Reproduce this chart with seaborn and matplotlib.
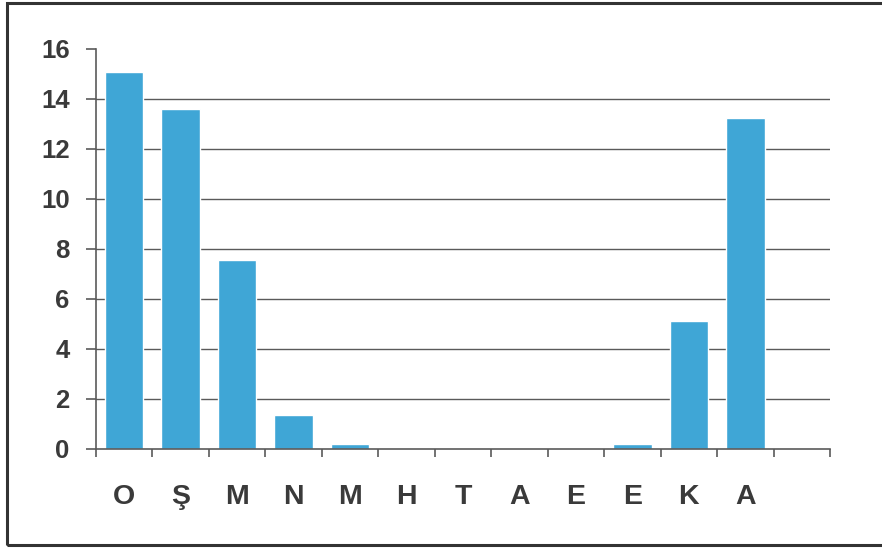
import matplotlib
matplotlib.use("Agg")
import matplotlib.pyplot as plt
import matplotlib.patches as mpatches
import seaborn as sns
import pandas as pd
import numpy as np

months = ["Ocak", "Şubat", "Mart", "Nisan", "Mayıs", "Haziran", "Temmuz",
          "Ağustos", "Eylül", "Ekim", "Kasım", "Aralık"]
tick_labels = ["O", "Ş", "M", "N", "M", "H", "T", "A", "E", "E", "K", "A"]
values = [15.1, 13.6, 7.55, 1.35, 0.2, 0, 0, 0, 0, 0.2, 5.12, 13.25]
y_ticks = [0, 2, 4, 6, 8, 10, 12, 14, 16]

df = pd.DataFrame({"month": months, "value": values})

sns.set_style("white")
plt.rcParams["font.family"] = ["Liberation Sans", "DejaVu Sans"]

fig = plt.figure(figsize=(8.82, 5.48), dpi=100)
ax = fig.add_axes([96/882, 1 - 449/548, (830 - 96)/882, (449 - 49)/548])

text_color = "#3a3a3a"
line_color = "#5a5a5a"

for y in y_ticks[1:-1]:
    ax.axhline(y, color=line_color, lw=1.0, zorder=0)

sns.barplot(data=df, x="month", y="value", order=months, color="#3fa6d6",
            saturation=1, width=0.68, ax=ax, zorder=2)

ax.set_xlim(-0.5, 12.5)
ax.set_ylim(0, 16)
ax.set_yticks(y_ticks)
ax.set_yticklabels([str(v) for v in y_ticks], fontsize=18.5, fontweight="bold",
                   color=text_color)
ax.set_xticks(np.arange(-0.5, 13.0, 1.0))
ax.set_xticklabels([])
ax.set_xticks(np.arange(len(months)), minor=True)
ax.set_xticklabels(tick_labels, minor=True, fontsize=20.5, fontweight="bold",
                   color=text_color)
ax.tick_params(axis="x", which="minor", length=0, pad=25)
ax.tick_params(axis="x", which="major", length=6, width=1.2, color=line_color,
               direction="out", bottom=True)
ax.tick_params(axis="y", length=7, width=1.2, color=line_color, pad=12,
               direction="out", left=True)
ax.set_xlabel("")
ax.set_ylabel("")

for s in ["top", "right"]:
    ax.spines[s].set_visible(False)
for s in ["left", "bottom"]:
    ax.spines[s].set_color(line_color)
    ax.spines[s].set_linewidth(1.2)

frame = mpatches.Rectangle((7/882, 3/548), 1.0, 1 - 6/548,
                           transform=fig.transFigure, fill=False,
                           edgecolor="#333333", lw=2.2, zorder=10)
fig.patches.append(frame)

fig.savefig("out.png", dpi=100, facecolor="white")
